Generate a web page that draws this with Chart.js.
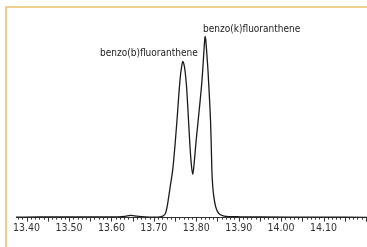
<!DOCTYPE html>
<html><head><meta charset="utf-8">
<script src="https://cdn.jsdelivr.net/npm/chart.js@4"></script>
<style>html,body{margin:0;padding:0;background:#fff}#w{position:relative;width:367px;height:247px}</style>
</head><body><div id="w"><canvas id="c" width="367" height="247"></canvas></div>
<script>
const retentionTimes = [13.375,13.432,13.5025,13.573,13.616,13.632,13.646,13.660,13.679,13.703,13.7146,13.7224,13.7276,13.7311,13.7342,13.7394,13.7446,13.7500,13.7547,13.7594,13.7629,13.7658,13.7681,13.7707,13.7735,13.7771,13.7806,13.7842,13.7877,13.7917,13.7952,13.7995,13.8042,13.8089,13.8136,13.8172,13.8193,13.8207,13.8223,13.8249,13.8278,13.8308,13.8337,13.8353,13.8367,13.8388,13.8419,13.8454,13.8502,13.8560,13.8655,13.8796,13.9032,13.950,14.0446,14.2025];
const intensities = [0.2,0.3,0.3,0.35,0.4,0.65,1.1,0.7,0.35,0.25,0.35,0.9,2.25,5.25,9.25,16.75,24.25,36.75,49.25,63.25,71.75,76.25,78.4,77.25,73.75,65.75,53.25,39.25,28.25,21.75,27.75,38.25,48.25,58.25,69.25,80.75,87.75,91,89.25,82.25,73.25,61.25,48.25,36.75,24.25,15.75,9.75,5.75,3.0,1.5,0.75,0.5,0.4,0.3,0.25,0.15];
const tickValues = [13.40,13.50,13.60,13.70,13.80,13.90,14.00,14.10];
const tickLabels = ['13.40','13.50','13.60','13.70','13.80','13.90','14.00','14.10'];
const peakNames = ['benzo(b)fluoranthene','benzo(k)fluoranthene'];
const peakWindows = [[13.74,13.79],[13.80,13.85]];

const FONT = '"DejaVu Sans Condensed","Liberation Sans",sans-serif';
const pts = retentionTimes.map((t,i)=>({x:t,y:intensities[i]}));

const decor = {
  id:'decor',
  afterDraw(chart){
    const ctx = chart.ctx, xs = chart.scales.x, ys = chart.scales.y, ca = chart.chartArea;
    ctx.save();
    ctx.strokeStyle = '#333'; ctx.lineWidth = 1;
    const a = Math.ceil(xs.min*100-1e-6), b = Math.floor(xs.max*100+1e-6);
    for (let i=a;i<=b;i++){
      const px = Math.round(xs.getPixelForValue(i/100))+0.5;
      const len = (i%5===0)?4:2;
      ctx.beginPath(); ctx.moveTo(px, ca.bottom); ctx.lineTo(px, ca.bottom+len); ctx.stroke();
    }
    ctx.fillStyle = '#222'; ctx.font = '10px '+FONT; ctx.textBaseline='middle';
    peakWindows.forEach((w,k)=>{
      let best=null;
      pts.forEach(p=>{ if(p.x>=w[0]&&p.x<=w[1]&&(!best||p.y>best.y)) best=p; });
      const px = xs.getPixelForValue(best.x), py = ys.getPixelForValue(best.y);
      if(k===0){ ctx.textAlign='right'; ctx.fillText(peakNames[k], px+15, py-8); }
      else { ctx.textAlign='left'; ctx.fillText(peakNames[k], px-2, py-7); }
    });
    ctx.strokeStyle = '#EBC36C'; ctx.lineWidth = 1.6;
    ctx.beginPath(); ctx.moveTo(6, chart.height); ctx.lineTo(6, 7); ctx.lineTo(chart.width, 7); ctx.stroke();
    ctx.restore();
  }
};

new Chart(document.getElementById('c'), {
  type:'line',
  data:{datasets:[{data:pts, borderColor:'#1a1a1a', borderWidth:1.3, pointRadius:0, fill:false, cubicInterpolationMode:'monotone'}]},
  options:{
    responsive:false, animation:false, devicePixelRatio:1,
    layout:{padding:{left:16,right:0,top:18.5,bottom:11.8}},
    plugins:{legend:{display:false},tooltip:{enabled:false}},
    scales:{
      x:{type:'linear', min:13.375, max:14.2025,
        afterBuildTicks:s=>{ s.ticks = tickValues.map(v=>({value:v})); },
        ticks:{callback:(v,i)=>tickLabels[i], autoSkip:false, maxRotation:0, color:'#333', padding:1, font:{family:FONT,size:10.5}},
        grid:{drawOnChartArea:false, drawTicks:true, tickLength:3, tickColor:'rgba(0,0,0,0)'},
        border:{color:'#333', width:1}},
      y:{display:false, min:0, max:100}
    }
  },
  plugins:[decor]
});
</script></body></html>
